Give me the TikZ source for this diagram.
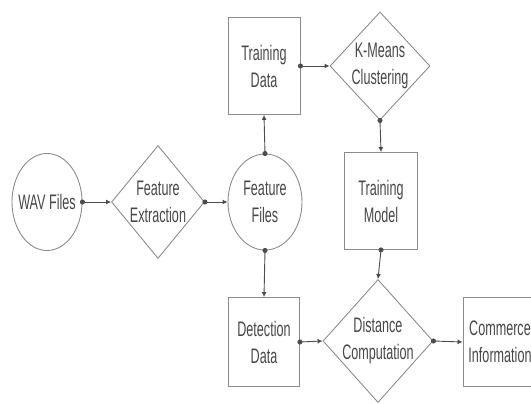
\documentclass[tikz,border=0pt]{standalone}
\usepackage{fontspec}
\setmainfont{Liberation Sans}
\newfontfamily\narrowsans[FakeStretch=0.6]{Liberation Sans}
\usetikzlibrary{shapes.geometric,arrows.meta}
\tikzset{
  shp/.style={draw=black!45, line width=0.9pt, inner sep=0pt},
  boxnode/.style={shp, rectangle},
  ellnode/.style={shp, ellipse},
  dianode/.style={shp, diamond},
  txt/.style={text=black!72, align=center, font=\narrowsans\fontsize{21}{27}\selectfont, inner sep=0pt},
  conn/.style={draw=black!70, line width=0.9pt, shorten <=-2.5pt, {Circle[length=5pt,width=5pt]}-{Latex[length=5pt,width=5pt]}}
}
\begin{document}
\begin{tikzpicture}[x=1pt,y=-1pt]
\useasboundingbox (0,0) rectangle (531,404);
\begin{scope}
\clip (0,0) rectangle (531,404);
\node[ellnode, minimum width=70, minimum height=97] (wav) at (47,202) {};
\node[txt] (wavt) at (wav) {WAV Files};
\node[dianode, minimum width=93, minimum height=113] (fe) at (158,202) {};
\node[txt] (fet) at (fe) {Feature\\Extraction};
\node[ellnode, minimum width=74, minimum height=96] (ff) at (265,202) {};
\node[txt] (fft) at (ff) {Feature\\Files};
\node[boxnode, minimum width=72, minimum height=97] (td) at (264,66) {};
\node[txt] (tdt) at (td) {Training\\Data};
\node[dianode, minimum width=100, minimum height=108] (km) at (380,66) {};
\node[txt] (kmt) at (km) {K-Means\\Clustering};
\node[boxnode, minimum width=73, minimum height=97] (tm) at (381,201) {};
\node[txt] (tmt) at (tm) {Training\\Model};
\node[boxnode, minimum width=71, minimum height=89] (dd) at (264,342) {};
\node[txt] (ddt) at (dd) {Detection\\Data};
\node[dianode, minimum width=110, minimum height=123] (dc) at (378,341) {};
\node[txt] (dct) at (dc) {Distance\\Computation};
\node[boxnode, minimum width=74, minimum height=89] (ci) at (500,342) {};
\node[txt] (cit) at (ci) {Commerce\\Information};

\draw[conn] (wav.east) -- (fe.west);
\draw[conn] (fe.east) -- (ff.west);
\draw[conn] (ff.north) -- (td.south);
\draw[conn] (td.east) -- (km.west);
\draw[conn] (km.south) -- (tm.north);
\draw[conn] (tm.south) -- (dc.north);
\draw[conn] (ff.south) -- (dd.north);
\draw[conn] (dd.east) -- (dc.west);
\draw[conn] (dc.east) -- (ci.west);
\end{scope}
\end{tikzpicture}
\end{document}
